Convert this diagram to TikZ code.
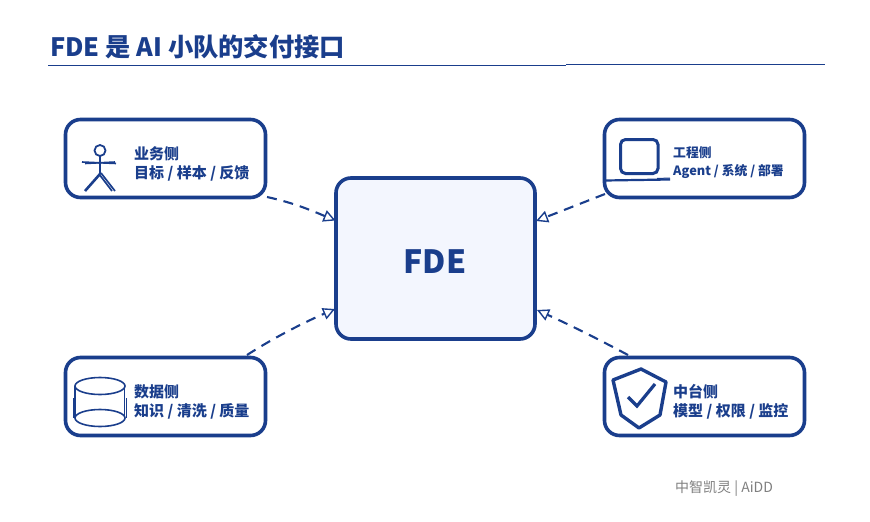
\documentclass[tikz,border=0pt]{standalone}
\usepackage{fontspec}
\setmainfont{Noto Sans CJK SC}
\usetikzlibrary{arrows.meta}
\definecolor{navy}{HTML}{1A3E8C}
\definecolor{paleblue}{HTML}{F3F6FE}
\definecolor{footgray}{HTML}{7F7F7F}
\tikzset{
  sidebox/.style={draw=navy,line width=3.6pt,rounded corners=15pt,fill=white,minimum width=200pt,minimum height=78pt,inner sep=0pt},
  hubbox/.style={draw=navy,line width=3.6pt,rounded corners=15pt,fill=paleblue,minimum width=199pt,minimum height=161pt,inner sep=0pt},
  sidelabel/.style={font=\fontsize{15}{19}\selectfont\bfseries,text=navy,align=left,anchor=west,inner sep=0pt},
  flow/.style={draw=navy,line width=2.1pt,dash pattern=on 10pt off 7pt,-{Triangle[open,length=12pt,width=12pt,line width=1.4pt]}},
  icon/.style={draw=navy,line width=1.6pt},
  iconthick/.style={draw=navy,line width=3pt},
}
\begin{document}
\begin{tikzpicture}[x=1pt,y=-1pt]
\useasboundingbox (0,0) rectangle (870,522);
\node[font=\fontsize{25.3}{30}\selectfont\bfseries,text=navy,anchor=west,inner sep=0pt] (title) at (50,47) {FDE 是 AI 小队的交付接口};
\coordinate (ruleA) at (48,65.3);
\coordinate (ruleB) at (566,65.3);
\coordinate (ruleC) at (566,64.3);
\coordinate (ruleD) at (825,64.3);
\draw[navy,line width=1.2pt] (ruleA) -- (ruleB);
\draw[navy,line width=1.2pt] (ruleC) -- (ruleD);

\node[hubbox,text=navy] (fde) at (435.5,258.5) {};
\node[font=\fontsize{32}{38}\selectfont\bfseries,text=navy,inner sep=0pt] (fdet) at (435,262) {FDE};
\node[sidebox] (biz) at (165.5,158.5) {};
\node[sidebox] (eng) at (704.5,158.5) {};
\node[sidebox] (data) at (165.5,396.5) {};
\node[sidebox] (plat) at (704.5,396.5) {};

\node[sidelabel] (bizt) at (134,163.5) {业务侧\\目标 / 样本 / 反馈};
\node[sidelabel,font=\fontsize{12.8}{18}\selectfont\bfseries] (engt) at (673,162.5) {工程侧\\Agent / 系统 / 部署};
\node[sidelabel] (datat) at (134,401.5) {数据侧\\知识 / 清洗 / 质量};
\node[sidelabel] (platt) at (673,401.5) {中台侧\\模型 / 权限 / 监控};

\coordinate (bizE) at (267,197);
\coordinate (fdeA) at (335.5,220.5);
\coordinate (engE) at (605,194);
\coordinate (fdeB) at (536,221);
\coordinate (dataE) at (247,355);
\coordinate (fdeC) at (335,309);
\coordinate (platE) at (628,355);
\coordinate (fdeD) at (537,310);
\draw[flow] (bizE) .. controls (295,203) and (315,212) .. (fdeA);
\draw[flow] (engE) -- (fdeB);
\draw[flow] (dataE) .. controls (275,337) and (305,322) .. (fdeC);
\draw[flow] (platE) .. controls (600,340) and (570,325) .. (fdeD);

% person
\draw[icon,line width=1.8pt] (100,150.5) circle (5.5);
\draw[icon,line width=2pt] (100,156) -- (100,174);
\draw[icon] (82,162) -- (116,163.5);
\draw[icon] (85,163.5) -- (115,162);
\draw[iconthick,line width=2.6pt] (100,174) -- (85,191);
\draw[iconthick,line width=1.7pt] (99,174) -- (112,191);
\draw[iconthick,line width=1.7pt] (101,173) -- (115,191);

% laptop
\draw[iconthick,rounded corners=5pt] (620.5,139.5) rectangle (658,173.5);
\draw[iconthick,line width=2.2pt] (605,180.5) -- (670,179.5);
\draw[icon,line width=1pt] (657,178.5) -- (670,178);

% cylinder
\draw[icon] (100,386) ellipse (25 and 8.5);
\draw[icon] (100,418) ellipse (25 and 8.5);
\draw[icon] (75,386) -- (75,418);
\draw[icon] (124.5,386) -- (124.5,418);
\draw[icon,line width=1pt] (73.5,398) -- (73.5,418);
\draw[icon,line width=1pt] (126,398) -- (126,418);

% shield
\draw[iconthick,line width=3.4pt,line join=round] (641,369) -- (666,382) -- (660,415) -- (639,428) -- (621,415) -- (613,380) -- cycle;
\draw[draw=navy,line width=3.2pt,line join=miter] (628,397) -- (637,406) -- (655,384);

\node[font=\fontsize{14}{18}\selectfont,text=footgray,anchor=west,inner sep=0pt] (foot) at (675,489) {中智凯灵 | AiDD};
\end{tikzpicture}
\end{document}
